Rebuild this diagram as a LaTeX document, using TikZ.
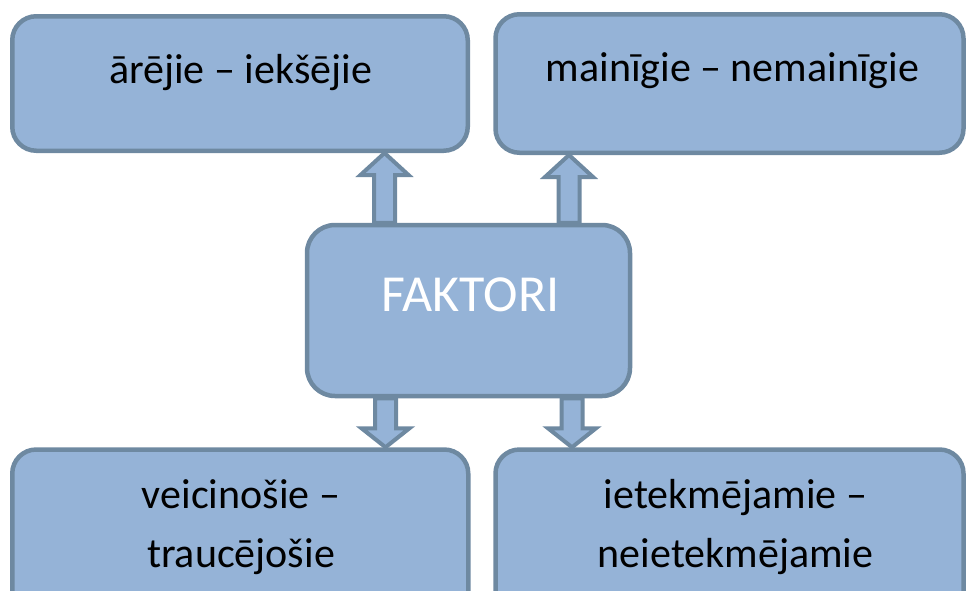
\documentclass[tikz,border=0pt]{standalone}
\usepackage{fontspec}
\setmainfont{Carlito}
\usepackage{tikz}
\usetikzlibrary{calc}
\usetikzlibrary{backgrounds}
\usetikzlibrary{positioning}

\definecolor{boxfill}{HTML}{95B3D7}
\definecolor{boxline}{HTML}{6E89A1}

\tikzset{
  box/.style={draw=boxline, fill=boxfill, line width=4.5pt, rounded corners=24pt, inner sep=0pt},
  blockarrow/.style={draw=boxline, fill=boxfill, line width=4pt, line join=miter},
  lbl/.style={font=\fontsize{42}{59}\selectfont, anchor=base, align=center, inner sep=0pt}
}

% block arrows: #1 = x, #2 = from node, #3 = to node
\newcommand{\blkup}[3]{%
  \draw[blockarrow] let \p1=(#2.north), \p2=(#3.south) in
    (#1-10.5pt,\y1) -- (#1-10.5pt,\y2-22pt) -- (#1-24pt,\y2-22pt) -- (#1,\y2)
    -- (#1+24pt,\y2-22pt) -- (#1+10.5pt,\y2-22pt) -- (#1+10.5pt,\y1) -- cycle;
}
\newcommand{\blkdown}[3]{%
  \draw[blockarrow] let \p1=(#2.south), \p2=(#3.north) in
    (#1-10.5pt,\y1) -- (#1-10.5pt,\y2+19pt) -- (#1-24pt,\y2+19pt) -- (#1,\y2)
    -- (#1+24pt,\y2+19pt) -- (#1+10.5pt,\y2+19pt) -- (#1+10.5pt,\y1) -- cycle;
}

\begin{document}
\begin{tikzpicture}[x=1pt, y=-1pt]
  \useasboundingbox (0,0) rectangle (966,590);

%%%%%%%%%%%% Boxes
  \node[box, minimum width=455.5pt, minimum height=134.5pt] (arejie) at (240,83.5) {};
  \node[box, minimum width=468pt, minimum height=138.5pt] (mainigie) at (729.5,83.5) {};
  \node[box, minimum width=323pt, minimum height=171pt, rounded corners=28pt] (faktori) at (468.5,310.5) {};
  \node[box, minimum width=456pt, minimum height=200pt] (veicinosie) at (240.25,549.5) {};
  \node[box, minimum width=468pt, minimum height=200pt] (ietekmejamie) at (729.5,549.5) {};

%%%%%%%%%%%% Texts
  \node[lbl] (tarejie) at (240.5,83) {ārējie – iekšējie};
  \node[lbl] (tmainigie) at (732.5,81) {mainīgie – nemainīgie};
  \node[lbl, font=\fontsize{52}{60}\selectfont, text=white] (tfaktori) at (470.5,311) {FAKTORI};
  \node[lbl] (tveicinosie) at (241,567) {veicinošie –\\traucējošie};
  \node[lbl] (tietekmejamie) at (735.5,567) {ietekmējamie –\\neietekmējamie};

%%%%%%%%%%%% Arrows
  \begin{scope}[on background layer]
    \blkup{384.5pt}{faktori}{arejie}
    \blkup{569pt}{faktori}{mainigie}
    \blkdown{385.5pt}{faktori}{veicinosie}
    \blkdown{572pt}{faktori}{ietekmejamie}
  \end{scope}
\end{tikzpicture}
\end{document}
